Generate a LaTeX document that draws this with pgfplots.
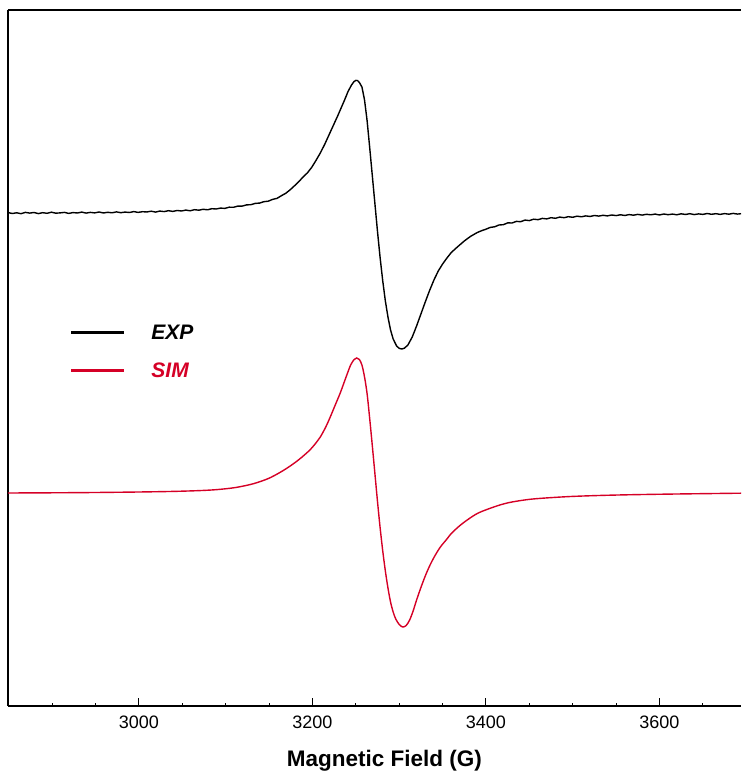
\documentclass[border=0pt]{standalone}
\usepackage{fontspec}
\setmainfont{Liberation Sans}
\usepackage{pgfplots}
\pgfplotsset{compat=1.18}
\definecolor{simred}{RGB}{213,0,38}

\begin{document}
\begin{tikzpicture}
\path[use as bounding box] (-4pt,-34pt) rectangle (366.5pt,353pt);
\begin{axis}[
  at={(0pt,0pt)}, anchor=south west,
  scale only axis, width=366.5pt, height=348pt,
  xmin=2849, xmax=3694, ymin=0, ymax=696,
  axis x line*=box, axis y line*=left,
  axis line style={line width=0.8pt, -},
  xtick={3000,3200,3400,3600},
  minor xtick={2900,2950,...,3650},
  xtick pos=lower, ytick=\empty,
  tick align=inside, major tick length=4pt, minor tick length=1.6pt,
  tick style={line width=0.5pt, black},
  /pgf/number format/assume math mode=true,
  xticklabel style={font=\fontsize{9}{10}\selectfont, /pgf/number format/1000 sep={}, yshift=-1.5pt},
  xlabel={Magnetic Field (G)},
  xlabel style={font=\bfseries\fontsize{11.25}{13}\selectfont, at={(ticklabel cs:0.5136)}, anchor=near ticklabel, yshift=-4pt},
  legend style={draw=none, fill=none, inner sep=0pt, outer sep=0pt,
    at={(axis cs:2920.5,380.5)}, anchor=north west,
    font=\bfseries\itshape\fontsize{10.5}{12}\selectfont,
    row sep=10pt, nodes={inner sep=0pt, anchor=base west}},
  legend cell align=left,
  legend image code/.code={\draw[#1] (0pt,3.75pt) -- (26.5pt,3.75pt); \path[draw=none] (0pt,0pt) (40pt,0pt);},
  legend image post style={line width=1.4pt},
]
\addplot[black, line width=0.7pt] coordinates {
(2849,493.4) (2854,492.5) (2859,493.2) (2864,492.3) (2869,493.6) (2874,492.9)
(2879,493.5) (2884,492.4) (2889,493.3) (2894,492.7) (2899,493.8) (2904,492.8)
(2909,493.1) (2914,493.6) (2919,492.6) (2924,493.4) (2929,493.0) (2934,493.9)
(2939,492.9) (2944,493.6) (2949,493.1) (2954,494.0) (2959,493.0) (2964,493.7)
(2969,493.2) (2974,494.1) (2979,493.3) (2984,493.9) (2989,493.5) (2994,494.4)
(2999,493.6) (3004,494.3) (3009,494.0) (3014,494.8) (3019,493.9) (3024,494.9)
(3029,494.4) (3034,495.3) (3039,494.6) (3044,495.5) (3049,495.0) (3054,495.9)
(3059,495.2) (3064,496.3) (3069,495.8) (3074,496.7) (3079,496.2) (3084,497.3)
(3089,497.0) (3094,497.9) (3099,497.6) (3104,498.8) (3109,498.7) (3114,499.9)
(3119,499.9) (3124,501.1) (3129,501.3) (3134,502.6) (3139,502.9) (3144,504.3)
(3149,504.8) (3154,506.6) (3159,507.6) (3164,510.2) (3169,512.6) (3174,516.0)
(3179,520.0) (3184,524.2) (3189,528.8) (3194,533.0) (3199,538.5) (3204,545.5)
(3209,553.0) (3214,561.5) (3219,571.0) (3224,580.5) (3229,590.0) (3233,598.0)
(3237,606.0) (3241,614.5) (3245,621.0) (3248,624.5) (3250,625.6) (3252,625.4)
(3254,623.6) (3257,619.0) (3260,606.0) (3263,585.0) (3266,558.0) (3269,530.0)
(3272,502.0) (3275,474.0) (3278,448.0) (3281,425.0) (3284,405.0) (3287,389.0)
(3290,376.0) (3293,367.0) (3297,360.0) (3300,357.6) (3303,357.0) (3306,357.8)
(3310,361.0) (3315,369.0) (3320,380.0) (3325,392.0) (3330,404.0) (3335,415.5)
(3340,426.0) (3345,435.0) (3350,442.0) (3355,448.0) (3360,453.5) (3367,459.0)
(3375,465.0) (3382,469.5) (3390,473.5) (3395,475.3) (3400,476.8) (3405,478.6)
(3410,479.2) (3415,481.0) (3420,481.3) (3425,483.1) (3430,483.0) (3435,484.6)
(3440,484.3) (3445,485.9) (3450,485.4) (3455,486.8) (3460,486.3) (3465,487.6)
(3470,487.1) (3475,488.3) (3480,487.7) (3485,488.9) (3490,488.3) (3495,489.3)
(3500,488.7) (3505,489.8) (3510,489.2) (3515,490.1) (3520,489.5) (3525,490.5)
(3530,489.9) (3535,490.7) (3540,490.1) (3545,491.0) (3550,490.4) (3555,491.2)
(3560,490.5) (3565,491.4) (3570,490.8) (3575,491.6) (3580,490.9) (3585,491.7)
(3590,491.2) (3595,491.9) (3600,491.0) (3605,492.0) (3610,491.3) (3615,491.9)
(3620,491.2) (3625,492.2) (3630,491.5) (3635,492.3) (3640,491.4) (3645,492.1)
(3650,491.6) (3655,492.5) (3660,491.7) (3665,492.3) (3670,491.6) (3675,492.4)
(3680,491.8) (3685,492.6) (3690,491.9) (3694,492.3)
};
\addlegendentry{EXP}
\addplot[simred, line width=0.7pt, smooth, tension=0.5] coordinates {
(2849,213.0) (2900,213.2) (2950,213.5) (3000,214.0) (3040,214.6) (3070,215.4)
(3090,216.4) (3110,218.3) (3128,221.4) (3140,224.5) (3150,227.8) (3160,232.3)
(3170,237.5) (3180,243.5) (3188,249.0) (3197,256.0) (3203,262.0) (3209,269.0)
(3215,278.5) (3220,288.0) (3226,300.5) (3232,313.0) (3236,322.5) (3240,332.0)
(3244,341.0) (3248,346.5) (3251,348.0) (3254,346.5) (3257,341.0) (3260,329.0)
(3263,312.0) (3266,287.0) (3269,260.0) (3272,232.0) (3275,204.0) (3278,178.0)
(3281,155.0) (3284,135.0) (3287,118.0) (3290,104.0) (3293,94.0) (3296,87.0)
(3300,81.5) (3304,79.0) (3308,80.5) (3312,86.0) (3316,95.0) (3320,106.0)
(3325,118.5) (3330,130.0) (3335,140.0) (3340,148.5) (3347,158.5) (3355,167.0)
(3360,172.5) (3370,180.5) (3380,187.0) (3390,192.5) (3401,196.5) (3416,201.0)
(3430,204.0) (3454,207.0) (3493,209.3) (3530,210.5) (3569,211.3) (3620,212.0)
(3694,212.8)
};
\addlegendentry{\textcolor{simred}{SIM}}
\end{axis}
\end{tikzpicture}
\end{document}
